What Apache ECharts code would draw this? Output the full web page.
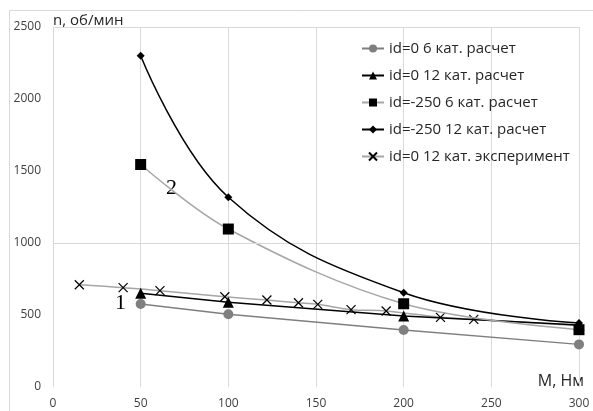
<!DOCTYPE html>
<html>
<head>
<meta charset="utf-8">
<script src="https://cdn.jsdelivr.net/npm/echarts@6/dist/echarts.min.js"></script>
<style>
  html, body { margin: 0; padding: 0; background: #fff; }
  #chart { width: 593px; height: 411px; }
</style>
</head>
<body>
<div id="chart"></div>
<script>
// расчетные точки, M = 50, 100, 200, 300
var calcM = [50, 100, 200, 300];
var id0_6 = [576, 505, 396, 296];
var id0_12 = [651, 588, 493, 430];
var id250_6 = [1545, 1097, 578, 398];
var id250_12 = [2300, 1318, 655, 444];
// эксперимент
var expM = [15, 40, 61, 98, 122, 140, 151, 170, 190, 221, 240];
var expN = [710, 690, 669, 627, 604, 585, 574, 537, 528, 484, 470];
var expTailM = 300, expTailN = 425;   // продолжение линии без маркера
var yTicks = [0, 500, 1000, 1500, 2000, 2500];
var gridLevels = [1000, 2500];

var font = '"Open Sans", "Noto Sans", sans-serif';

function pairs(xs, ys) {
    return xs.map(function (x, i) { return [x, ys[i]]; });
}

var expData = pairs(expM, expN);
expData.push({ value: [expTailM, expTailN], symbol: 'none' });

var chart = echarts.init(document.getElementById('chart'));
chart.setOption({
    backgroundColor: '#fff',
    animation: false,
    textStyle: { fontFamily: font },
    grid: { left: 53, right: 14, top: 27, bottom: 24 },
    legend: {
        orient: 'vertical',
        left: 356,
        top: 36,
        itemWidth: 22,
        itemHeight: 10,
        itemGap: 12,
        textStyle: { fontSize: 15, color: '#262626', fontFamily: font },
        data: ['id=0 6 кат. расчет', 'id=0 12 кат. расчет', 'id=-250 6 кат. расчет',
            'id=-250 12 кат. расчет', 'id=0 12 кат. эксперимент']
    },
    xAxis: {
        type: 'value', min: 0, max: 300, interval: 50,
        axisLine: { show: false },
        axisTick: { show: false },
        axisLabel: { color: '#404040', fontSize: 12, margin: 11 },
        splitLine: { show: true, lineStyle: { color: '#d9d9d9', width: 1 } }
    },
    yAxis: {
        type: 'value', min: yTicks[0], max: yTicks[yTicks.length - 1], interval: 500,
        axisLine: { show: false },
        axisTick: { show: false },
        axisLabel: { color: '#404040', fontSize: 12, margin: 12, formatter: function (v) { return String(v); } },
        splitLine: { show: false }
    },
    series: [
        {
            name: 'id=0 6 кат. расчет', type: 'line', data: pairs(calcM, id0_6),
            symbol: 'circle', symbolSize: 10,
            itemStyle: { color: '#7f7f7f' },
            lineStyle: { color: '#7f7f7f', width: 1.5 },
            markLine: {
                silent: true, symbol: 'none', label: { show: false },
                lineStyle: { color: '#d9d9d9', width: 1, type: 'solid' },
                data: gridLevels.map(function (v) { return { yAxis: v }; })
            },
            z: 3
        },
        {
            name: 'id=0 12 кат. расчет', type: 'line', data: pairs(calcM, id0_12),
            symbol: 'triangle', symbolSize: 11,
            itemStyle: { color: '#000' },
            lineStyle: { color: '#000', width: 1.5 },
            z: 3
        },
        {
            name: 'id=-250 6 кат. расчет', type: 'line', data: pairs(calcM, id250_6),
            smooth: 0.35,
            symbol: 'rect', symbolSize: 11,
            itemStyle: { color: '#000' },
            lineStyle: { color: '#a6a6a6', width: 1.5 },
            z: 4
        },
        {
            name: 'id=-250 12 кат. расчет', type: 'line', data: pairs(calcM, id250_12),
            smooth: 0.4,
            symbol: 'diamond', symbolSize: 8,
            itemStyle: { color: '#000' },
            lineStyle: { color: '#000', width: 1.5 },
            z: 5
        },
        {
            name: 'id=0 12 кат. эксперимент', type: 'line', data: expData,
            smooth: 0.3,
            symbol: 'path://M0,0L10,10M10,0L0,10', symbolSize: 9,
            itemStyle: { color: 'none', borderColor: '#000', borderWidth: 1.2 },
            lineStyle: { color: '#a6a6a6', width: 1.5 },
            z: 2
        }
    ],
    graphic: [
        {
            type: 'rect', left: 7, top: 8, silent: true, z: -1,
            shape: { width: 600, height: 420 },
            style: { fill: 'none', stroke: '#d9d9d9', lineWidth: 1 }
        },
        {
            type: 'text', left: 53, top: 13,
            style: { text: 'n, об/мин', fontSize: 15, fill: '#262626', fontFamily: font }
        },
        {
            type: 'text', right: 9, top: 373,
            style: { text: 'М, Нм', fontSize: 16, fill: '#262626', fontFamily: font }
        },
        {
            type: 'text', left: 115, top: 292,
            style: { text: '1', fontSize: 22, fill: '#000', fontFamily: '"Liberation Serif", serif' }
        },
        {
            type: 'text', left: 166, top: 177,
            style: { text: '2', fontSize: 22, fill: '#000', fontFamily: '"Liberation Serif", serif' }
        }
    ]
});
</script>
</body>
</html>
